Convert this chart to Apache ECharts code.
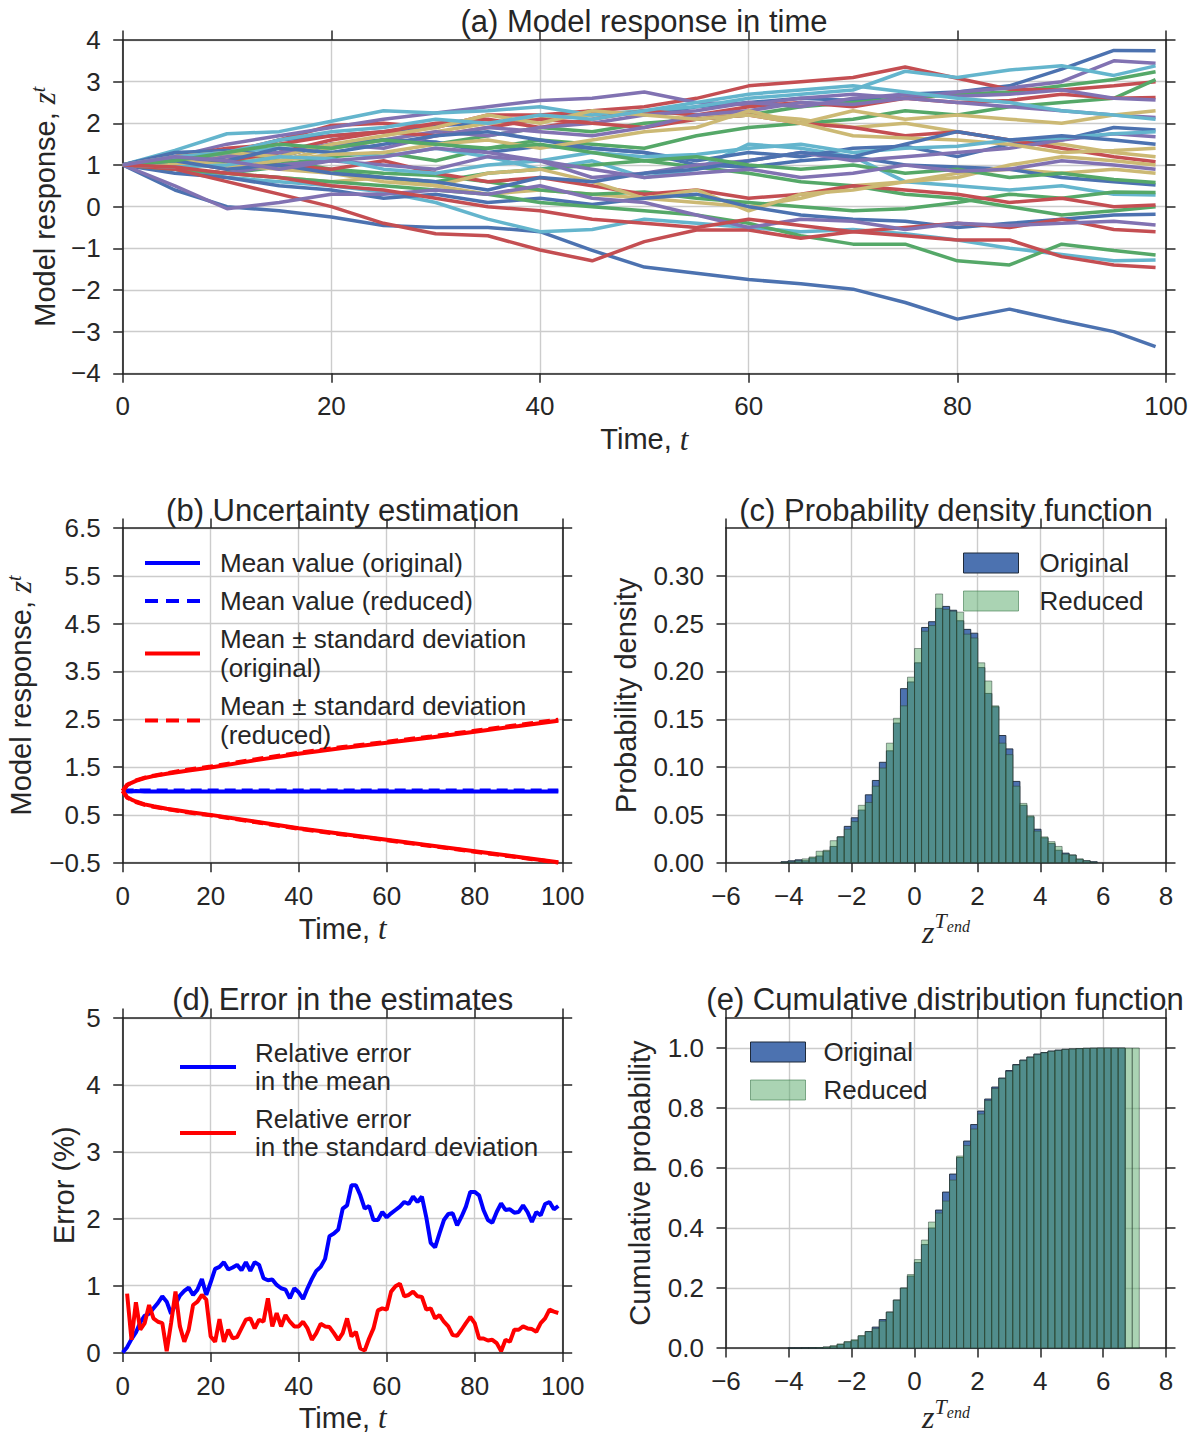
<!DOCTYPE html>
<html><head><meta charset="utf-8">
<script src="https://cdn.jsdelivr.net/npm/echarts@6/dist/echarts.min.js"></script>
<style>
html,body{margin:0;padding:0;background:#fff;overflow:hidden}
#wrap{width:1196px;height:1434px}
</style>
</head><body><div id="wrap"></div>
<script>
// ---------------- data ----------------
// (a) model response trajectories, sampled at these times
const sampleTimes = [0,5,10,15,20,25,30,35,40,45,50,55,60,65,70,75,80,85,90,95,99];
const blueRuns = [
 [1,1.3,1.25,1.6,1.7,1.8,1.95,2.0,2.1,2.3,2.2,2.4,2.5,2.6,2.55,2.7,2.75,2.9,3.3,3.75,3.74],
 [1,0.4,0.0,-0.1,-0.25,-0.45,-0.5,-0.5,-0.6,-1.05,-1.45,-1.6,-1.75,-1.85,-1.98,-2.3,-2.7,-2.46,-2.74,-3.0,-3.36],
 [1,1.3,1.35,1.2,1.5,1.6,1.55,1.3,1.45,1.4,1.3,1.1,1.3,1.2,1.4,1.45,1.2,1.5,1.6,1.9,1.84],
 [1,1.2,1.1,1.4,1.3,1.5,1.7,1.8,1.6,1.4,1.3,1.0,0.95,1.1,1.2,1.0,0.95,0.9,0.7,0.6,0.52],
 [1,0.8,0.7,0.5,0.4,0.2,0.3,0.1,0.2,0.05,0.2,0.3,0.0,-0.2,-0.3,-0.35,-0.5,-0.4,-0.3,-0.2,-0.18],
 [1,1.1,0.9,1.0,0.8,0.7,0.6,0.4,0.7,0.6,0.8,0.9,1.1,1.3,1.2,1.5,1.8,1.6,1.7,1.6,1.5]
];
const greenRuns = [
 [1,1.2,1.0,1.3,1.4,1.6,1.5,1.7,1.9,1.8,2.0,2.1,2.2,2.4,2.5,2.6,2.7,2.75,2.9,3.05,3.24],
 [1,0.9,1.1,1.0,1.2,1.3,1.1,1.4,1.6,1.5,1.4,1.7,1.9,2.0,2.1,2.3,2.2,2.4,2.5,2.6,3.05],
 [1,1.1,0.95,1.1,0.9,0.8,0.75,0.6,0.4,0.3,0.35,0.2,0.1,0.0,-0.1,-0.05,0.1,0.3,0.2,0.35,0.34],
 [1,0.9,0.8,0.95,0.85,0.7,0.6,0.8,0.9,1.0,1.1,0.95,0.8,0.6,0.5,0.3,0.2,0.0,-0.2,-0.1,0.0],
 [1,0.9,0.8,0.7,0.6,0.5,0.4,0.3,0.1,0.0,-0.1,-0.2,-0.4,-0.7,-0.9,-0.9,-1.3,-1.4,-0.9,-1.05,-1.16],
 [1,1.1,1.3,1.5,1.4,1.6,1.5,1.4,1.5,1.3,1.1,1.2,1.0,0.9,1.0,0.8,0.9,0.7,0.8,0.65,0.58]
];
const redRuns = [
 [1,1.1,1.3,1.6,1.95,2.0,1.9,2.2,2.2,2.3,2.4,2.6,2.9,3.0,3.1,3.35,3.08,2.82,2.8,2.9,3.0],
 [1,1.2,1.4,1.5,1.7,1.8,2.0,2.1,1.9,2.1,2.3,2.2,2.4,2.5,2.4,2.6,2.5,2.55,2.7,2.6,2.62],
 [1,1.2,1.1,1.3,1.6,1.8,1.7,1.9,2.1,2.0,1.9,2.1,2.2,2.0,1.9,1.7,1.8,1.6,1.4,1.2,1.08],
 [1,1.1,0.9,1.0,0.9,1.1,0.8,0.6,0.7,0.5,0.3,0.4,0.2,0.3,0.5,0.4,0.3,0.1,0.2,0.0,0.04],
 [1,0.9,0.6,0.3,0.0,-0.4,-0.65,-0.7,-1.04,-1.3,-0.84,-0.56,-0.56,-0.76,-0.6,-0.5,-0.4,-0.5,-0.3,-0.55,-0.6],
 [1,0.95,0.8,0.7,0.5,0.4,0.2,0.0,-0.1,-0.3,-0.4,-0.5,-0.3,-0.45,-0.6,-0.7,-0.8,-0.8,-1.2,-1.4,-1.46]
];
const purpleRuns = [
 [1,1.2,1.5,1.7,1.9,2.1,2.25,2.4,2.55,2.6,2.75,2.5,2.45,2.6,2.7,2.6,2.75,2.85,3.0,3.5,3.44],
 [1,1.1,1.3,1.2,1.5,1.6,1.8,1.7,1.9,2.0,2.2,2.3,2.5,2.4,2.6,2.7,2.65,2.7,2.8,2.6,2.56],
 [1,1.0,1.2,1.3,1.5,1.4,1.7,1.9,1.8,1.7,1.9,2.2,2.3,2.5,2.45,2.6,2.5,2.4,2.3,2.2,2.14],
 [1,0.9,0.8,1.0,1.1,1.0,0.9,1.2,1.1,0.7,0.8,1.0,1.1,1.3,1.1,1.2,1.3,1.4,1.6,1.75,1.68],
 [1,0.5,-0.05,0.1,0.3,0.3,0.4,0.3,0.5,0.2,0.1,-0.2,-0.5,-0.3,-0.35,-0.55,-0.4,-0.45,-0.4,-0.35,-0.44],
 [1,1.2,1.1,0.9,1.1,1.2,1.4,1.3,1.1,0.9,0.7,0.8,0.9,0.7,0.8,1.0,0.85,0.9,1.1,1.0,0.9]
];
const yellowRuns = [
 [1,1.1,1.2,1.1,1.4,1.6,1.8,2.0,2.1,2.2,2.3,2.2,2.2,2.1,1.9,2.0,1.8,1.6,1.5,1.3,1.2],
 [1,0.9,0.8,0.7,0.6,0.7,0.5,0.3,0.4,0.3,0.2,0.1,0.0,0.2,0.5,0.6,0.8,0.9,0.8,0.9,0.8],
 [1,1.2,1.3,1.2,1.5,1.7,1.9,2.2,2.0,2.3,2.2,2.1,2.2,2.0,2.3,2.1,2.2,2.1,2.0,2.2,2.3],
 [1,1.1,1.0,0.9,0.8,0.6,0.5,0.8,0.9,0.6,0.2,0.4,-0.1,0.3,0.4,0.6,0.7,1.0,1.2,1.1,1.0],
 [1,1.05,0.95,1.1,1.25,1.3,1.5,1.6,1.4,1.6,1.8,1.9,2.3,2.0,1.7,1.65,1.6,1.5,1.3,1.35,1.4]
];
const cyanRuns = [
 [1,1.35,1.75,1.8,2.05,2.3,2.25,2.3,2.4,2.2,2.3,2.4,2.6,2.7,2.8,3.25,3.1,3.28,3.38,3.15,3.38],
 [1,1.1,1.3,1.4,1.3,1.2,1.4,1.2,0.9,1.1,0.7,0.9,1.5,1.4,1.2,0.6,0.5,0.4,0.5,0.3,0.28],
 [1,0.9,0.7,0.6,0.5,0.35,0.1,-0.3,-0.6,-0.55,-0.3,-0.4,-0.5,-0.6,-0.55,-0.65,-0.8,-1.0,-1.15,-1.3,-1.28],
 [1,1.2,1.3,1.6,1.8,1.9,2.1,2.0,2.2,2.1,2.3,2.5,2.7,2.8,2.9,2.75,2.6,2.5,2.3,2.2,2.1],
 [1,0.95,1.0,1.2,1.15,0.9,0.8,1.0,1.1,1.3,1.2,1.25,1.4,1.5,1.3,1.4,1.45,1.6,1.65,1.75,1.8]
];

// (b) uncertainty estimation
const bTimes    = [0,1,2,3,5,7,10,15,20,30,40,50,60,70,80,90,99];
const meanOrig  = [1.0,0.99,0.99,1.0,0.99,0.99,0.99,0.99,0.99,0.99,0.99,0.99,0.99,0.99,0.99,0.99,0.99];
const meanRed   = [1.0,1.01,1.01,1.01,1.01,1.01,1.01,1.01,1.01,1.01,1.01,1.01,1.01,1.01,1.01,1.01,1.01];
const upperOrig = [1.0,1.12,1.17,1.21,1.27,1.31,1.36,1.43,1.49,1.64,1.78,1.9,2.01,2.12,2.24,2.36,2.47];
const lowerOrig = [1.0,0.87,0.82,0.78,0.72,0.68,0.63,0.56,0.5,0.36,0.22,0.1,-0.02,-0.14,-0.26,-0.38,-0.49];
const upperRed  = [1.0,1.13,1.18,1.22,1.28,1.32,1.37,1.45,1.51,1.66,1.8,1.92,2.03,2.14,2.26,2.38,2.49];
const lowerRed  = [1.0,0.86,0.81,0.77,0.71,0.67,0.62,0.55,0.49,0.35,0.21,0.09,-0.03,-0.15,-0.27,-0.39,-0.5];

// (c) probability density histogram (bins of equal width from binStart)
const pdfBinStart = -4.25, pdfBinWidth = 0.2236;
const pdfOriginal = [0.001,0.002,0.003,0.002,0.005,0.007,0.012,0.017,0.027,0.038,0.047,0.055,0.071,0.086,0.105,0.117,0.146,0.182,0.189,0.209,0.246,0.252,0.266,0.268,0.264,0.253,0.244,0.240,0.204,0.177,0.163,0.133,0.119,0.085,0.060,0.048,0.035,0.026,0.020,0.013,0.010,0.008,0.0035,0.002,0.001];
const pdfReduced  = [0.0005,0.001,0.002,0.004,0.006,0.012,0.013,0.023,0.027,0.035,0.043,0.060,0.063,0.080,0.099,0.125,0.151,0.164,0.194,0.224,0.242,0.248,0.281,0.265,0.263,0.262,0.239,0.235,0.209,0.190,0.164,0.125,0.113,0.080,0.062,0.049,0.033,0.027,0.022,0.017,0.009,0.008,0.004,0.002,0.0005];

// (d) relative errors (%)
const errMean = [0.0,0.08,0.2,0.3,0.45,0.55,0.58,0.66,0.74,0.84,0.76,0.58,0.72,0.85,0.92,0.97,0.86,0.94,1.1,0.86,
 1.05,1.25,1.28,1.35,1.24,1.27,1.31,1.23,1.35,1.22,1.35,1.31,1.11,1.08,1.09,1.01,0.96,0.94,0.81,0.96,
 0.9,0.8,0.96,1.1,1.22,1.28,1.4,1.74,1.78,1.84,2.15,2.2,2.5,2.5,2.35,2.15,2.19,1.98,1.98,2.1,
 2.02,2.08,2.13,2.18,2.25,2.22,2.33,2.25,2.33,2.02,1.64,1.57,1.78,1.98,2.07,2.08,1.9,2.03,2.18,2.4,
 2.4,2.35,2.13,1.98,1.94,2.1,2.23,2.13,2.14,2.09,2.1,2.2,2.1,1.95,2.1,2.05,2.22,2.25,2.14,2.19];
const errStd = [0.88,0.19,0.75,0.34,0.44,0.71,0.51,0.46,0.44,0.02,0.44,0.91,0.39,0.16,0.34,0.71,0.76,0.86,0.79,
 0.24,0.16,0.5,0.16,0.34,0.21,0.23,0.36,0.49,0.51,0.36,0.49,0.46,0.81,0.39,0.59,0.39,0.56,0.46,0.39,
 0.39,0.46,0.36,0.19,0.29,0.43,0.39,0.38,0.29,0.19,0.29,0.51,0.24,0.31,0.06,0.03,0.21,0.36,0.63,0.66,
 0.64,0.91,0.99,1.03,0.84,0.86,0.91,0.84,0.83,0.64,0.66,0.51,0.56,0.46,0.39,0.26,0.25,0.34,0.44,0.53,
 0.44,0.21,0.21,0.18,0.19,0.14,0.02,0.19,0.16,0.34,0.34,0.39,0.36,0.35,0.31,0.44,0.51,0.64,0.61,0.59];
const errMeanStartT = 0, errStdStartT = 1;

// (e) cumulative distribution histogram
const cdfBinStart = -4.03, cdfBinWidth = 0.2236;
const cdfOriginal = [0,0,0.0005,0.001,0.001,0.003,0.006,0.012,0.02,0.025,0.04,0.055,0.07,0.095,0.12,0.16,0.2,0.24,0.285,0.345,0.40,0.46,0.52,0.58,0.635,0.69,0.745,0.79,0.83,0.87,0.9,0.925,0.945,0.96,0.97,0.98,0.985,0.99,0.993,0.996,0.997,0.998,0.999,0.9995,1,1,1,1];
const cdfReduced  = [0,0,0.0003,0.001,0.002,0.004,0.008,0.014,0.022,0.028,0.042,0.055,0.065,0.09,0.12,0.16,0.2,0.245,0.295,0.36,0.42,0.45,0.49,0.56,0.64,0.675,0.73,0.78,0.825,0.865,0.898,0.922,0.943,0.958,0.969,0.978,0.984,0.989,0.992,0.995,0.997,0.998,0.999,0.9995,1,1,1,1,1,1];

// ---------------- styling / layout ----------------
const INK = '#262626', GRIDC = '#cccccc';
const SANS = '"Liberation Sans", Arial, Helvetica, sans-serif';
const SERIF = '"Liberation Serif", "Times New Roman", serif';
const C6 = {blue:'#4c72b0', green:'#55a868', red:'#c44e52', purple:'#8172b2', yellow:'#ccb974', cyan:'#64b5cd'};
const minus = v => String(v).replace('-', '\u2212');

const grids = [
  {left:122.7, top:40,   width:1043.3, height:333.3},
  {left:122.7, top:528,  width:440,    height:334.7},
  {left:726,   top:528,  width:440,    height:334.7},
  {left:122.7, top:1018, width:440,    height:334.7},
  {left:726,   top:1018, width:440,    height:334.7}
];

const labelStyle = {fontSize:26, color:INK, fontFamily:SANS};
const richTime = {a:{fontSize:29, fontFamily:SANS, color:INK, lineHeight:34}, b:{fontSize:31, fontFamily:SERIF, fontStyle:'italic', color:INK, lineHeight:34}};
const richZT = {z:{fontSize:32, fontFamily:SERIF, fontStyle:'italic', color:INK, lineHeight:38, verticalAlign:'bottom'},
                T:{fontSize:22, fontFamily:SERIF, fontStyle:'italic', color:INK, lineHeight:22, verticalAlign:'top'},
                e:{fontSize:16, fontFamily:SERIF, fontStyle:'italic', color:INK, lineHeight:16, verticalAlign:'top', padding:[9,0,0,0]}};
const richZt = {a:{fontSize:29, fontFamily:SANS, color:INK, lineHeight:34}, z:{fontSize:31, fontFamily:SERIF, fontStyle:'italic', color:INK, lineHeight:34},
                t:{fontSize:20, fontFamily:SERIF, fontStyle:'italic', color:INK, lineHeight:20, verticalAlign:'top'}};

function axes(dim, gi, c) {
  const base = {
    type:'value', gridIndex:gi, min:c.min, max:c.max, interval:c.interval,
    axisLine:{show:true, onZero:false, lineStyle:{color:INK, width:1.7}},
    axisTick:{show:true, inside:false, length:9.5, lineStyle:{color:INK, width:1.5}},
    splitLine:{show:false}, axisLabel:{show:false}
  };
  if (c.ticks) base.axisTick.customValues = c.ticks;
  const main = JSON.parse(JSON.stringify(base));
  const mirror = JSON.parse(JSON.stringify(base));
  main.position = dim === 'x' ? 'bottom' : 'left';
  mirror.position = dim === 'x' ? 'top' : 'right';
  main.splitLine = {show:true, lineStyle:{color:GRIDC, width:1.4}};
  main.axisLabel = Object.assign({show:true, margin: dim === 'x' ? 20 : 22, formatter:c.fmt || minus}, labelStyle);
  if (c.ticks) main.axisLabel.customValues = c.ticks;
  if (c.name) {
    main.name = c.name; main.nameLocation = 'middle'; main.nameGap = c.gap;
    main.nameTextStyle = {rich:c.rich, color:INK, fontSize:29, fontFamily:SANS};
    if (dim === 'y') main.nameRotate = 90;
  }
  return [main, mirror];
}

const xAxes = [], yAxes = [];
[
  [{min:0,max:100,interval:20,name:'{a|Time, }{b|t}',rich:richTime,gap:49},
   {min:-4,max:4,interval:1,name:'{a|Model response, }{z|z}{t|t}',rich:richZt,gap:59}],
  [{min:0,max:100,interval:20,name:'{a|Time, }{b|t}',rich:richTime,gap:49},
   {min:-0.5,max:6.5,interval:1,fmt:v=>minus(v.toFixed(1)),name:'{a|Model response, }{z|z}{t|t}',rich:richZt,gap:85}],
  [{min:-6,max:8,interval:2,name:'{z|z}{T|T}{e|end}',rich:richZT,gap:38},
   {min:0,max:0.35,interval:0.05,ticks:[0,0.05,0.1,0.15,0.2,0.25,0.3],fmt:v=>v.toFixed(2),name:'{a|Probability density}',rich:richZt,gap:83}],
  [{min:0,max:100,interval:20,name:'{a|Time, }{b|t}',rich:richTime,gap:48},
   {min:0,max:5,interval:1,name:'{a|Error (%)}',rich:richZt,gap:42}],
  [{min:-6,max:8,interval:2,name:'{z|z}{T|T}{e|end}',rich:richZT,gap:38},
   {min:0,max:1.1,interval:0.2,ticks:[0,0.2,0.4,0.6,0.8,1.0],fmt:v=>v.toFixed(1),name:'{a|Cumulative probability}',rich:richZt,gap:69}]
].forEach((p, gi) => { xAxes.push(...axes('x', gi, p[0])); yAxes.push(...axes('y', gi, p[1])); });

const series = [];
// (a) trajectories, interleaved in the colour cycle order
const groups = [['blue',blueRuns],['green',greenRuns],['red',redRuns],['purple',purpleRuns],['yellow',yellowRuns],['cyan',cyanRuns]];
for (let k = 0; k < 6; k++) {
  groups.forEach(([cname, runs]) => {
    if (!runs[k]) return;
    series.push({type:'line', name:'run-'+cname+'-'+k, xAxisIndex:0, yAxisIndex:0, silent:true,
      data: sampleTimes.map((t,i)=>[t, runs[k][i]]), symbol:'none', showSymbol:false,
      lineStyle:{width:3.5, color:C6[cname]}, itemStyle:{color:C6[cname]}});
  });
}
// (b)
const bLine = (name, vals, color, dashed) => ({type:'line', name, xAxisIndex:2, yAxisIndex:2, silent:true, symbol:'none', showSymbol:false,
  data:bTimes.map((t,i)=>[t, vals[i]]), lineStyle:{width:4, color, type: dashed ? [11,6] : 'solid'}, itemStyle:{color}});
const N1='Mean value (original)', N2='Mean value (reduced)', N3='Mean \u00b1 standard deviation\n(original)', N4='Mean \u00b1 standard deviation\n(reduced)';
series.push(bLine(N1, meanOrig, '#0000ff', false), bLine(N2, meanRed, '#0000ff', true),
            bLine(N3, upperOrig, '#ff0000', false), bLine(N3, lowerOrig, '#ff0000', false),
            bLine(N4, upperRed, '#ff0000', true), bLine(N4, lowerRed, '#ff0000', true));
// (c), (e) histograms
function hist(name, start, width, heights, xi, fill, stroke) {
  return {type:'custom', name, xAxisIndex:xi, yAxisIndex:xi, silent:true,
    itemStyle:{color:fill},
    encode:{x:[0,1], y:2},
    data: heights.map((h,k)=>[start + k*width, start + (k+1)*width, h]),
    renderItem:(params, api) => {
      const a = api.coord([api.value(0), api.value(2)]);
      const b = api.coord([api.value(1), 0]);
      return {type:'rect', shape:{x:a[0], y:a[1], width:b[0]-a[0], height:b[1]-a[1]},
              style:{fill, stroke, lineWidth:0.9}};
    }};
}
const FILL_O = '#4c72b0', FILL_R = 'rgba(85,168,104,0.5)', EDGE_O = '#1f2a3a', EDGE_R = 'rgba(40,60,50,0.55)';
series.push(hist('Original', pdfBinStart, pdfBinWidth, pdfOriginal, 4, FILL_O, EDGE_O));
series.push(hist('Reduced',  pdfBinStart, pdfBinWidth, pdfReduced, 4, FILL_R, EDGE_R));
series.push(hist('Original', cdfBinStart, cdfBinWidth, cdfOriginal, 8, FILL_O, EDGE_O));
series.push(hist('Reduced',  cdfBinStart, cdfBinWidth, cdfReduced, 8, FILL_R, EDGE_R));
// (d)
const M1 = 'Relative error\nin the mean', M2 = 'Relative error\nin the standard deviation';
series.push({type:'line', name:M1, xAxisIndex:6, yAxisIndex:6, silent:true, symbol:'none', showSymbol:false,
  data: errMean.map((v,i)=>[errMeanStartT+i, v]), lineStyle:{width:4, color:'#0000ff'}, itemStyle:{color:'#0000ff'}});
series.push({type:'line', name:M2, xAxisIndex:6, yAxisIndex:6, silent:true, symbol:'none', showSymbol:false,
  data: errStd.map((v,i)=>[errStdStartT+i, v]), lineStyle:{width:4, color:'#ff0000'}, itemStyle:{color:'#ff0000'}});

const legText = (lh, pad) => ({fontSize:26, lineHeight:lh, color:INK, fontFamily:SANS, padding:[0,0,0,pad]});
const SOLID = 'rect';
const DASHED = 'path://M0,0h13v4h-13z M21,0h13v4h-13z M42,0h13v4h-13z';
const histLegendData = [
  {name:'Original', itemStyle:{color:FILL_O, borderColor:EDGE_O, borderWidth:1}},
  {name:'Reduced', itemStyle:{color:FILL_R, borderColor:'rgba(60,120,75,0.6)', borderWidth:1}}
];
const legends = [
  {data:[{name:N1,icon:SOLID},{name:N2,icon:DASHED},{name:N3,icon:SOLID},{name:N4,icon:DASHED}],
   orient:'vertical', left:145, top:548.5, padding:0, itemWidth:55, itemHeight:4, itemGap:9, symbolKeepAspect:false,
   selectedMode:false, textStyle:legText(29, 15)},
  {data:histLegendData, icon:'rect', orient:'vertical', left:963, top:548.5, padding:0, itemWidth:55, itemHeight:20, itemGap:9,
   selectedMode:false, textStyle:legText(29, 16)},
  {data:[{name:M1,icon:SOLID},{name:M2,icon:SOLID}], orient:'vertical', left:180, top:1039, padding:0, itemWidth:56, itemHeight:4, itemGap:10,
   symbolKeepAspect:false, selectedMode:false, textStyle:legText(28, 14)},
  {data:histLegendData, icon:'rect', orient:'vertical', left:750, top:1037.5, padding:0, itemWidth:55, itemHeight:20, itemGap:9,
   selectedMode:false, textStyle:legText(29, 13)}
];

const tStyle = {fontSize:31, fontWeight:'normal', color:INK, fontFamily:SANS, lineHeight:36};
const titles = [
  {text:'(a) Model response in time', left:644, top:3, textAlign:'center', padding:0, textStyle:tStyle},
  {text:'(b) Uncertainty estimation', left:342.7, top:492, textAlign:'center', padding:0, textStyle:tStyle},
  {text:'(c) Probability density function', left:946, top:492, textAlign:'center', padding:0, textStyle:tStyle},
  {text:'(d) Error in the estimates', left:342.7, top:981, textAlign:'center', padding:0, textStyle:tStyle},
  {text:'(e) Cumulative distribution function', left:945, top:981, textAlign:'center', padding:0, textStyle:tStyle}
];

const chart = echarts.init(document.getElementById('wrap'), null, {renderer:'svg', width:1196, height:1434});
chart.setOption({
  backgroundColor:'#ffffff',
  animation:false,
  title:titles,
  legend:legends,
  grid:grids,
  xAxis:xAxes,
  yAxis:yAxes,
  series
});
</script>
</body></html>
